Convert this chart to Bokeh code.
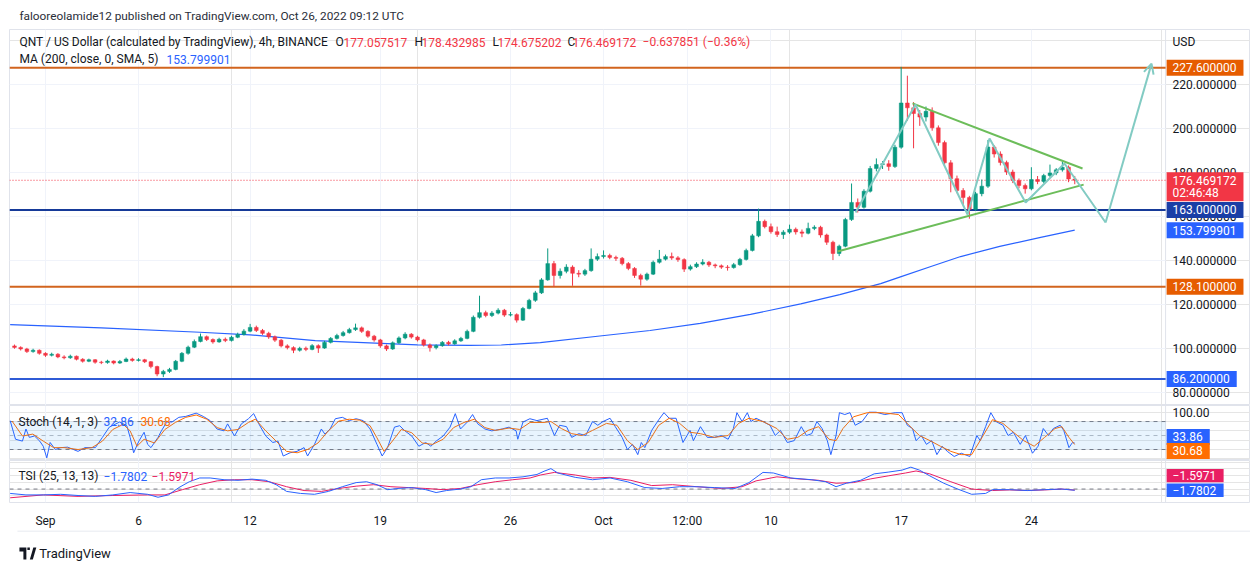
import numpy as np
from bokeh.plotting import figure
from bokeh.models import (Range1d, FixedTicker, Label, Grid, ColumnDataSource,
                          BoxAnnotation, Arrow, OpenHead, PolyAnnotation, LinearAxis)
from bokeh.core.properties import value
from bokeh.layouts import column
from bokeh.embed import file_html
from bokeh.resources import INLINE

FONT = "Roboto"
TXT = "#131722"
GRID = "#f0f3fa"
BORDER = "#e0e3eb"
UP = "#089981"
DOWN = "#f23645"

# ---------------- price data (8h candles, Aug 30 08:00 -> Oct 26 08:00) ----------------
FIRST_OPEN = 101.2
CLOSES = [
    100.5, 99.8,
    98.6, 99.2, 97.8,
    96.9, 97.4, 96.2, 95.8, 96.5, 95.1, 94.2, 94.9, 93.8, 93.6, 94.3, 93.4,
    94.1, 95.2, 94.6, 94.9, 94.0, 91.8, 88.4, 89.6, 90.5, 94.2, 97.8, 100.6,
    103.2, 105.4, 104.1, 103.0, 104.2, 103.6, 105.1, 106.4, 107.9, 109.6, 108.2, 106.9,
    105.3, 103.8, 101.2, 100.4, 99.2, 100.1, 99.6, 101.3, 100.2, 102.8, 104.6, 105.9,
    107.2, 108.6, 109.4, 107.8, 105.6, 103.9, 101.2, 99.8, 102.6, 104.8, 106.5, 105.2,
    103.9, 101.6, 100.4, 101.3, 102.8, 102.1, 103.5, 104.6, 107.8, 114.2, 116.3, 115.0,
    116.1, 117.4, 115.2, 115.4, 112.9, 118.2, 121.9, 125.3, 131.2, 138.6, 133.2, 135.1,
    137.0, 134.2, 133.8, 135.4, 140.6, 141.8,
    142.3, 141.4, 141.0, 138.6, 136.4, 133.2, 131.5, 133.8, 139.2, 140.6, 141.8, 141.2,
    140.4, 136.1, 137.2, 138.4, 139.2, 138.0, 137.6, 137.0, 136.8, 138.1, 140.5, 144.6,
    151.2, 157.8, 155.4, 153.1, 151.8, 152.9, 154.2, 153.0, 152.4, 154.6, 155.1, 151.6,
    148.3, 143.2, 146.5, 158.6, 166.4, 164.2, 171.5, 181.8, 183.6, 184.0, 182.7, 191.5,
    211.6, 209.4, 206.8, 205.2, 207.8, 200.3, 193.6, 184.4, 177.2, 171.8, 168.6, 163.2,
    170.4, 173.8, 191.6, 188.4, 184.6, 180.2, 176.4, 174.1, 172.6, 176.8, 175.9, 178.6,
    179.8, 181.2, 182.4, 177.06, 176.47,
]
HIGHS = [
    101.8, 101.0,
    100.3, 99.9, 99.6,
    98.3, 98.1, 97.9, 96.9, 97.2, 96.8, 95.6, 95.4, 95.2, 94.4, 94.9, 94.6,
    94.8, 95.9, 95.8, 95.6, 95.3, 94.3, 92.2, 90.3, 91.2, 94.8, 98.4, 101.3,
    104.1, 106.8, 105.9, 104.6, 104.9, 105.0, 105.8, 107.2, 108.8, 111.2, 110.4, 108.9,
    107.6, 105.9, 104.3, 101.9, 101.0, 100.8, 100.9, 102.0, 101.9, 103.5, 105.2, 106.7,
    108.0, 109.4, 111.3, 110.0, 108.3, 106.2, 104.4, 101.8, 103.2, 105.5, 107.4, 107.0,
    105.8, 104.4, 102.3, 101.9, 103.4, 103.5, 104.2, 105.3, 108.6, 115.0, 124.0, 117.2,
    117.0, 118.3, 118.0, 116.6, 116.0, 118.9, 122.6, 126.2, 132.0, 145.5, 139.8, 136.4,
    138.3, 137.8, 135.6, 136.2, 145.5, 143.2,
    144.6, 143.1, 142.2, 141.6, 139.3, 137.0, 134.0, 134.5, 140.0, 144.8, 142.7, 143.6,
    142.0, 141.0, 138.1, 139.2, 140.6, 139.8, 138.6, 138.2, 137.9, 138.9, 141.2, 145.4,
    152.1, 163.6, 158.6, 156.8, 155.4, 153.8, 156.3, 155.0, 154.1, 157.2, 156.0, 155.8,
    152.2, 149.0, 147.2, 159.4, 175.0, 168.2, 172.4, 183.0, 186.4, 185.2, 185.6, 192.6,
    228.0, 224.0, 212.0, 208.4, 210.0, 209.6, 201.4, 194.5, 185.6, 178.6, 172.9, 169.4,
    171.2, 176.8, 194.8, 192.4, 189.6, 185.4, 181.3, 177.3, 175.0, 182.4, 178.4, 179.4,
    183.6, 182.0, 184.8, 183.2, 178.43,
]
LOWS = [
    99.9, 99.1,
    98.0, 98.1, 97.2,
    96.2, 96.4, 95.6, 95.1, 95.3, 94.6, 93.6, 93.8, 93.1, 92.9, 93.1, 92.8,
    93.0, 93.8, 94.0, 94.1, 93.4, 91.0, 87.4, 87.0, 88.9, 90.1, 93.8, 97.2,
    100.2, 102.8, 103.4, 102.2, 102.6, 102.9, 103.2, 104.7, 105.9, 107.4, 107.5, 106.2,
    104.4, 103.0, 100.5, 99.6, 97.9, 98.6, 98.8, 99.2, 98.0, 99.9, 102.3, 104.1,
    105.4, 106.8, 108.0, 107.1, 104.9, 103.1, 100.3, 98.9, 99.4, 102.1, 104.2, 104.5,
    103.2, 100.9, 98.6, 99.6, 100.8, 101.4, 101.7, 103.0, 104.2, 107.4, 113.6, 114.2,
    114.3, 115.5, 114.4, 114.6, 111.8, 112.5, 117.8, 121.2, 124.8, 130.8, 128.2, 131.8,
    134.2, 128.5, 132.4, 133.0, 134.9, 139.8,
    140.9, 140.6, 139.8, 137.8, 135.6, 132.1, 128.6, 130.8, 133.4, 138.6, 140.0, 140.3,
    139.4, 134.8, 135.4, 136.6, 137.8, 137.1, 136.5, 136.2, 135.4, 136.3, 137.6, 140.0,
    144.1, 150.6, 154.6, 152.2, 150.7, 149.8, 152.1, 151.8, 150.6, 151.9, 153.8, 150.4,
    147.1, 140.2, 142.0, 146.0, 158.0, 161.8, 163.6, 170.9, 180.5, 181.6, 180.8, 182.1,
    190.8, 203.5, 191.0, 201.2, 203.2, 199.0, 192.2, 182.8, 171.0, 170.6, 165.4, 159.0,
    162.5, 169.2, 173.0, 186.8, 183.2, 178.9, 175.2, 172.8, 170.4, 171.9, 174.7, 175.2,
    177.9, 178.8, 180.4, 175.6, 174.68,
]

# MA (200) read at selected times (days since Sep 1)
MA_T = [-1.9, 3.0, 8.3, 11.0, 14.5, 20.0, 22.8, 24.5, 26.6, 29.8, 32.5, 35.2, 37.9,
        40.6, 42.7, 44.9, 46.0, 47.6, 49.2, 51.3, 53.5, 55.33]
MA_V = [110.9, 109.4, 107.4, 106.2, 103.6, 101.7, 101.4, 101.6, 102.7, 105.7, 108.2,
        111.4, 115.5, 120.3, 124.5, 129.5, 132.7, 137.3, 141.8, 146.4, 150.5, 153.8]

# Horizontal levels
LEVELS = [227.6, 163.0, 128.1, 86.2]
LEVEL_COLORS = ["#d2641e", "#163a99", "#d2641e", "#2f5bd6"]
LEVEL_TAGS = ["227.600000", "163.000000", "128.100000", "86.200000"]
LEVEL_TAG_BG = ["#e65c00", "#1a3ea6", "#e65c00", "#2962ff"]
LAST_PRICE = 176.469172
MA_LAST = 153.799901

# Drawings (days, price)
TRI_UP_T = [46.61, 55.75]
TRI_UP_P = [211.4, 181.8]
TRI_LO_T = [42.58, 55.81]
TRI_LO_P = [144.1, 174.5]
ZZ_T = [43.55, 46.77, 49.57, 50.75, 52.69, 54.78, 56.99]
ZZ_P = [161.8, 210.9, 160.9, 195.5, 166.4, 184.1, 157.3]
ARROW_END = (59.46, 229.5)

# Stochastic %K and %D
K_T = [-1.90, -1.61, -1.24, -1.05, -0.87, -0.59, -0.31, -0.12, 0.07, 0.25, 0.53, 0.82, 1.19,
       1.75, 2.12, 2.68, 3.06, 3.43, 3.99, 4.37, 4.55, 4.74, 5.02, 5.30, 5.49, 5.67, 6.05,
       6.23, 6.52, 6.80, 7.17, 7.54, 8.10, 8.48, 8.85, 9.22, 9.60, 9.79, 10.16, 10.53, 10.91,
       11.19, 11.47, 11.84, 12.22, 12.50, 12.78, 13.15, 13.52, 13.90, 14.09, 14.46, 14.83,
       15.02, 15.30, 15.58, 15.96, 16.33, 16.70, 17.08, 17.45, 17.82, 18.10, 18.39, 18.76,
       19.04, 19.32, 19.69, 20.07, 20.44, 20.72, 21.00, 21.38, 21.75, 22.03, 22.31, 22.68,
       22.96, 23.24, 23.62, 23.99, 24.55, 24.92, 25.30, 25.39, 25.67, 26.04, 26.42,
       26.98, 27.36, 27.64, 28.01, 28.29, 28.67, 29.04, 29.41, 29.69, 29.97, 30.35, 30.63,
       31.00, 31.28, 31.56, 31.84, 32.03, 32.22, 32.59, 32.97, 33.25, 33.53, 33.90, 34.27,
       34.65, 34.83, 35.21, 35.58, 35.96, 36.33, 36.70, 36.98, 37.17, 37.45, 37.73, 37.92,
       38.20, 38.57, 38.95, 39.23, 39.51, 39.88, 40.25, 40.63, 40.91, 41.19, 41.47, 41.75,
       42.03, 42.22, 42.50, 42.68, 42.97, 43.25, 43.53, 43.90, 44.27, 44.65, 45.12, 45.68,
       46.05, 46.33, 46.61, 46.80, 47.08, 47.36, 47.64, 47.92, 48.20, 48.48, 48.85, 49.23,
       49.69, 50.07, 50.25, 50.54, 50.82, 51.10, 51.47, 51.75, 52.03, 52.40, 52.68, 53.06,
       53.36, 53.64, 53.92, 54.18, 54.55, 54.74, 55.02, 55.21, 55.33]
K_V = [82, 42, 38, 64, 46, 49, 38, 27, 2, 35, 20, 24, 25, 16, 24, 24, 46, 68, 79, 71, 46, 13,
       38, 57, 31, 24, 46, 60, 79, 79, 89, 91, 98, 91, 82, 64, 60, 75, 49, 75, 86, 97, 75, 49,
       35, 38, 6, 13, 16, 24, 6, 31, 64, 53, 64, 86, 89, 82, 86, 82, 64, 31, 6, 24, 68, 71, 60,
       49, 27, 35, 27, 38, 49, 68, 97, 64, 79, 95, 75, 64, 60, 64, 68, 60, 42, 79, 86, 82,
       87, 50, 72, 69, 46, 54, 50, 80, 72, 80, 87, 69, 46, 20, 31, 9, 35, 24, 61, 84, 99, 87,
       87, 35, 61, 39, 69, 46, 46, 50, 42, 65, 99, 80, 99, 80, 87, 80, 72, 50, 61, 35, 39, 69,
       50, 54, 80, 65, 39, 9, 50, 99, 95, 99, 72, 80, 100, 100, 95, 99, 99, 72, 65, 39, 50,
       31, 39, 9, 27, 16, 5, 12, 5, 50, 39, 69, 99, 80, 72, 50, 57, 31, 50, 12, 27, 65, 50, 65,
       72, 61, 24, 35, 33.86]
D_T = [-1.80, -1.24, -0.68, -0.12, 0.44, 1.00, 1.75, 2.50, 3.06, 3.62, 4.18, 4.55, 4.92,
       5.30, 5.86, 6.42, 6.98, 7.54, 8.10, 8.67, 9.23, 9.79, 10.35, 10.91, 11.28, 11.84,
       12.40, 12.96, 13.53, 14.09, 14.65, 15.21, 15.77, 16.33, 16.89, 17.45, 17.82, 18.20,
       18.57, 19.13, 19.69, 20.25, 20.81, 21.38, 21.94, 22.50, 23.06, 23.62, 24.18, 24.92,
       25.49, 26.05, 26.80, 27.17, 27.73, 28.29, 28.85, 29.41, 30.16, 30.72, 31.28, 31.84,
       32.40, 32.97, 33.53, 34.09, 34.65, 35.21, 35.96, 36.70, 37.26, 37.82, 38.57, 39.32,
       39.88, 40.44, 41.00, 41.56, 42.12, 42.50, 42.87, 43.43, 44.18, 44.93, 45.86, 46.42,
       46.98, 47.55, 48.11, 48.67, 49.23, 49.79, 50.35, 50.91, 51.47, 52.03, 52.59, 53.15,
       53.71, 54.27, 54.64, 55.02, 55.33]
D_V = [81, 49, 53, 38, 24, 24, 20, 24, 38, 63, 74, 60, 27, 42, 34, 63, 78, 89, 94, 85, 67,
       60, 63, 78, 85, 60, 38, 16, 13, 20, 34, 60, 81, 85, 83, 71, 45, 16, 34, 63, 56, 34, 31,
       42, 67, 78, 85, 67, 61, 66, 63, 78, 78, 80, 65, 54, 50, 61, 76, 72, 39, 20, 35, 72, 87,
       76, 57, 54, 46, 50, 76, 87, 80, 65, 42, 46, 61, 69, 42, 39, 65, 90, 99, 99, 95, 72, 50,
       39, 27, 16, 9, 9, 46, 84, 76, 57, 39, 27, 46, 65, 69, 46, 30.68]

# TSI and signal
TSI_T = [-1.90, -1.05, -0.12, 0.82, 1.75, 2.68, 3.62, 4.55, 5.49, 6.05, 6.61, 7.17, 7.73,
         8.29, 8.85, 9.60, 10.35, 11.10, 11.84, 12.40, 12.96, 13.71, 14.46, 15.21, 15.96,
         16.70, 17.26, 17.82, 18.39, 18.95, 19.69, 20.44, 21.00, 21.56, 22.31, 22.87, 23.43,
         24.18, 24.92, 25.67, 26.42, 26.80, 27.17, 27.54, 28.48, 29.41, 30.35, 31.28, 32.22,
         33.15, 34.09, 35.02, 35.96, 37.08, 37.82, 38.57, 39.13, 40.07, 41.19, 41.94, 42.50,
         43.06, 43.81, 44.55, 45.30, 46.05, 46.52, 46.98, 47.54, 48.29, 49.04, 49.79, 50.54,
         50.91, 51.84, 52.78, 53.71, 54.64, 55.33]
TSI_V = [-6.5, -8.7, -8.7, -7.8, -9.6, -10.9, -8.7, -5.2, -7.8, -12.2, -8.7, 2.2, 10.9, 16.5,
         16.5, 13.9, 13.0, 14.8, 13.0, 6.5, -3.5, -6.5, -7.8, -3.5, 3.5, 9.6, 10.9, 6.5, -0.9,
         0.9, 2.2, -0.9, -5.2, -2.2, 0.0, 3.5, 13.9, 16.5, 16.5, 18.2, 21.7, 26.5, 30.4, 23.9,
         17.4, 13.9, 16.5, 10.9, 2.2, 0.9, 3.5, 3.5, 2.2, 0.9, 9.6, 24.8, 23.9, 16.5, 13.9,
         10.9, 3.5, 8.7, 13.0, 22.6, 25.2, 28.2, 32.6, 28.2, 19.6, 8.7, 0.0, -7.8, -6.5, -0.9,
         -0.9, -2.2, -0.9, 0.0, -1.78]
SIG_T = [-1.90, -0.12, 1.75, 3.62, 5.49, 6.42, 7.36, 8.29, 9.23, 10.16, 11.10, 12.03, 12.96,
         13.90, 14.83, 15.77, 16.70, 17.64, 18.57, 19.50, 20.44, 21.38, 22.31, 23.24, 24.18,
         25.12, 26.05, 26.61, 27.36, 28.48, 29.41, 30.35, 31.47, 32.59, 33.71, 35.02, 36.33,
         37.45, 38.20, 39.32, 40.44, 41.56, 42.50, 43.43, 44.37, 45.30, 46.24, 46.80, 47.54,
         48.67, 49.79, 50.91, 51.84, 52.78, 53.71, 54.64, 55.33]
SIG_V = [-13.0, -8.7, -10.9, -9.6, -8.7, -8.7, -0.9, 6.5, 12.2, 13.9, 13.9, 10.9, 3.5, -2.2,
         -3.5, 0.9, 4.3, 6.5, 3.5, 2.2, 0.9, -0.9, 0.9, 6.5, 10.9, 13.9, 16.5, 20.9, 24.8, 20.9,
         16.5, 17.4, 13.0, 5.2, 6.5, 3.5, 0.9, 3.5, 12.2, 18.2, 15.2, 13.0, 8.7, 9.6, 15.2,
         19.6, 23.9, 26.9, 22.6, 10.9, 0.0, -2.2, -1.3, -2.2, -1.3, 0.0, -1.60]

# Axis ticks
PRICE_TICKS = [80, 100, 120, 140, 160, 180, 200, 220]
STOCH_TICKS = [100]
X_TICKS = [0, 5, 11, 18, 25, 30, 34.5, 39, 46, 53]
X_LABELS = ["Sep", "6", "12", "19", "26", "Oct", "12:00", "10", "17", "24"]

# ---------------- layout constants ----------------
PX_PER_DAY = 18.6
X_LEFT, X_SEP, X_RIGHT = -1.935, 60.215, 64.78
TICK_X = 60.59        # start of scale texts
TAG_L = 60.27         # left edge of scale tags
W = 1250

n = len(CLOSES)
t = (np.arange(n) - 5) / 3.0          # bar open time, days since Sep 1 00:00
c = np.array(CLOSES)
o = np.array([FIRST_OPEN] + CLOSES[:-1])
h = np.array(HIGHS)
l = np.array(LOWS)
col = np.where(c >= o, UP, DOWN)
src = ColumnDataSource(dict(t=t, o=o, c=c, h=h, l=l, top=np.maximum(o, c),
                            bot=np.minimum(o, c), color=col))

xr = Range1d(X_LEFT, X_RIGHT)


def panel(height, yr, bottom=0):
    f = figure(width=W, height=height, x_range=xr, y_range=yr, output_backend="svg",
               toolbar_location=None, x_axis_location=None, y_axis_location=None,
               min_border_left=9, min_border_right=0, min_border_top=0,
               min_border_bottom=bottom)
    f.outline_line_color = BORDER
    f.background_fill_color = "white"
    f.border_fill_color = "white"
    f.add_layout(Grid(dimension=0, ticker=FixedTicker(ticks=X_TICKS),
                      grid_line_color=GRID, grid_line_width=1))
    f.segment(x0=[X_SEP], y0=[yr.start], x1=[X_SEP], y1=[yr.end], line_color=BORDER,
              line_width=1)
    return f


def lab(fig, x, y, text, color=TXT, size="12px"):
    fig.add_layout(Label(x=x, y=y, text=text, text_color=color, text_font=FONT,
                         text_font_size=size, text_align="left", text_baseline="middle"))


def ticks(fig, vals, labels):
    fig.text(x=[TICK_X] * len(vals), y=vals, text=labels, text_font=value(FONT),
             text_font_size=value("12px"), text_color=TXT, text_baseline="middle",
             text_align="left")


CHAR_W = {".": 3.2, "\u2212": 7.1, ":": 3.3}


def text_px(s):
    return sum(CHAR_W.get(ch, 6.74) for ch in s)


def tag(fig, y, texts, bg, px_per_unit, gap=13.0):
    wpx = max(text_px(s) for s in texts) + 13
    k = len(texts)
    top = y + 8 / px_per_unit
    bot = y - (8 + (k - 1) * gap) / px_per_unit
    fig.quad(left=[TAG_L], right=[TAG_L + wpx / PX_PER_DAY], top=[top], bottom=[bot],
             fill_color=bg, line_color=None)
    fig.text(x=[TICK_X] * k, y=[y - i * gap / px_per_unit for i in range(k)], text=texts,
             text_font=value(FONT), text_font_size=value("12px"), text_color="white",
             text_baseline="middle", text_align="left")


# ---- header strip ----
hdr = figure(width=W, height=29, x_range=Range1d(0, W), y_range=Range1d(29, 0),
             output_backend="svg", toolbar_location=None, x_axis_location=None,
             y_axis_location=None, min_border=0)
hdr.outline_line_color = None
hdr.grid.visible = False
lab(hdr, 10, 15, "falooreolamide12 published on TradingView.com, Oct 26, 2022 09:12 UTC",
    color="#2a2e39", size="11.8px")

# ---- main price panel ----
PPU_MAIN = 2.2
p = panel(376, Range1d(74.1, 245))
p.segment(x0=[X_LEFT] * len(PRICE_TICKS), y0=PRICE_TICKS, x1=[X_SEP] * len(PRICE_TICKS),
          y1=PRICE_TICKS, line_color=GRID, line_width=1)
p.line(MA_T, MA_V, line_color="#2962ff", line_width=1.2)
p.segment(x0=[X_LEFT] * len(LEVELS), y0=LEVELS, x1=[X_SEP] * len(LEVELS), y1=LEVELS,
          line_color=LEVEL_COLORS, line_width=2)
p.segment(x0=[X_LEFT], y0=[LAST_PRICE], x1=[X_SEP], y1=[LAST_PRICE], line_color=DOWN,
          line_width=1, line_dash="1 2")

p.segment(x0="t", y0="l", x1="t", y1="h", line_color="color", line_width=1, source=src)
p.vbar(x="t", width=0.2, top="top", bottom="bot", fill_color="color", line_color="color",
       line_width=0.5, source=src)

GREEN = "#6cbd5a"
TEAL = "#82cbc3"
p.line(TRI_UP_T, TRI_UP_P, line_color=GREEN, line_width=2)
p.line(TRI_LO_T, TRI_LO_P, line_color=GREEN, line_width=2)
p.line(ZZ_T, ZZ_P, line_color=TEAL, line_width=2)
p.add_layout(Arrow(end=OpenHead(size=10, line_color=TEAL, line_width=2),
                   x_start=ZZ_T[-1], y_start=ZZ_P[-1], x_end=ARROW_END[0], y_end=ARROW_END[1],
                   line_color=TEAL, line_width=2))

ticks(p, PRICE_TICKS, [f"{v:.6f}" for v in PRICE_TICKS])
ticks(p, [239.5], ["USD"])

Y1, Y2 = 239.1, 231.4
lab(p, -1.40, Y1, "QNT / US Dollar (calculated by TradingView), 4h, BINANCE")
lab(p, 15.59, Y1, "O")
lab(p, 16.02, Y1, "177.057517", color=DOWN)
lab(p, 19.84, Y1, "H")
lab(p, 20.22, Y1, "178.432985", color=DOWN)
lab(p, 24.03, Y1, "L")
lab(p, 24.30, Y1, "174.675202", color=DOWN)
lab(p, 28.06, Y1, "C")
lab(p, 28.33, Y1, "176.469172", color=DOWN)
lab(p, 32.10, Y1, "\u22120.637851 (\u22120.36%)", color=DOWN)
lab(p, -1.40, Y2, "MA (200, close, 0, SMA, 5)")
lab(p, 6.51, Y2, "153.799901", color="#2962ff")

for lv, tx, bg in zip(LEVELS, LEVEL_TAGS, LEVEL_TAG_BG):
    tag(p, lv, [tx], bg, PPU_MAIN)
tag(p, MA_LAST, ["153.799901"], "#2962ff", PPU_MAIN)
tag(p, LAST_PRICE, ["176.469172", "02:46:48"], DOWN, PPU_MAIN)

# ---- stochastic panel ----
PPU_STOCH = 0.466
p2 = panel(55, Range1d(-3.6, 114.4))
p2.add_layout(BoxAnnotation(left=X_LEFT, right=X_SEP, bottom=20, top=80,
                            fill_color="#2196f3", fill_alpha=0.1, line_color=None))
for lvl, a in [(80, 1.0), (50, 0.5), (20, 1.0)]:
    p2.segment(x0=[X_LEFT], y0=[lvl], x1=[X_SEP], y1=[lvl], line_color="#787b86",
               line_alpha=a, line_width=1, line_dash="4 4")
p2.line(K_T, K_V, line_color="#2962ff", line_width=1)
p2.line(D_T, D_V, line_color="#ff6d00", line_width=1)
ticks(p2, STOCH_TICKS, ["100.00"])
lab(p2, -1.45, 79.9, "Stoch (14, 1, 3)")
lab(p2, 3.12, 79.9, "32.86", color="#2962ff")
lab(p2, 5.11, 79.9, "30.68", color="#ff6d00")
tag(p2, 47.0, ["33.86"], "#2962ff", PPU_STOCH)
tag(p2, 17.0, ["30.68"], "#ff6d00", PPU_STOCH)

# ---- TSI panel + time axis ----
PPU_TSI = 0.8
p3 = panel(70, Range1d(-20, 42.5), bottom=20)
xa = LinearAxis(ticker=FixedTicker(ticks=X_TICKS),
                major_label_overrides=dict(zip(X_TICKS, X_LABELS)))
xa.axis_line_color = None
xa.major_tick_line_color = None
xa.minor_tick_line_color = None
xa.major_label_text_font = FONT
xa.major_label_text_font_size = "12px"
xa.major_label_text_color = TXT
xa.major_label_standoff = 5
p3.add_layout(xa, "below")
p3.segment(x0=[X_LEFT], y0=[0], x1=[X_SEP], y1=[0], line_color="#787b86", line_width=1,
           line_dash="4 4")
p3.line(SIG_T, SIG_V, line_color="#e91e63", line_width=1)
p3.line(TSI_T, TSI_V, line_color="#2962ff", line_width=1)
lab(p3, -1.45, 18.75, "TSI (25, 13, 13)")
lab(p3, 3.12, 18.75, "\u22121.7802", color="#2962ff")
lab(p3, 5.70, 18.75, "\u22121.5971", color="#e91e63")
tag(p3, 20.0, ["\u22121.5971"], "#e91e63", PPU_TSI)
tag(p3, -1.78, ["\u22121.7802"], "#2962ff", PPU_TSI)

# ---- footer strip ----
ftr = figure(width=W, height=40, x_range=Range1d(0, W), y_range=Range1d(40, 0),
             output_backend="svg", toolbar_location=None, x_axis_location=None,
             y_axis_location=None, min_border=0)
ftr.outline_line_color = None
ftr.grid.visible = False
ftr.segment(x0=[8], y0=[0.5], x1=[W], y1=[0.5], line_color=BORDER, line_width=1)
lab(ftr, 30, 23, "TradingView", size="13px")
ftr.add_layout(PolyAnnotation(xs=[10, 17, 17, 14, 14, 10], ys=[17, 17, 29, 29, 21, 21],
                              fill_color=TXT, fill_alpha=1, line_color=None))
ftr.add_layout(PolyAnnotation(xs=[20.5, 23.5, 27, 24], ys=[29, 29, 17, 17],
                              fill_color=TXT, fill_alpha=1, line_color=None))
ftr.add_layout(PolyAnnotation(xs=[18, 20.5, 20.5, 18], ys=[17, 17, 19.5, 19.5],
                              fill_color=TXT, fill_alpha=1, line_color=None))

layout = column(hdr, p, p2, p3, ftr, spacing=0)
open("out.html", "w").write(file_html(layout, INLINE))
